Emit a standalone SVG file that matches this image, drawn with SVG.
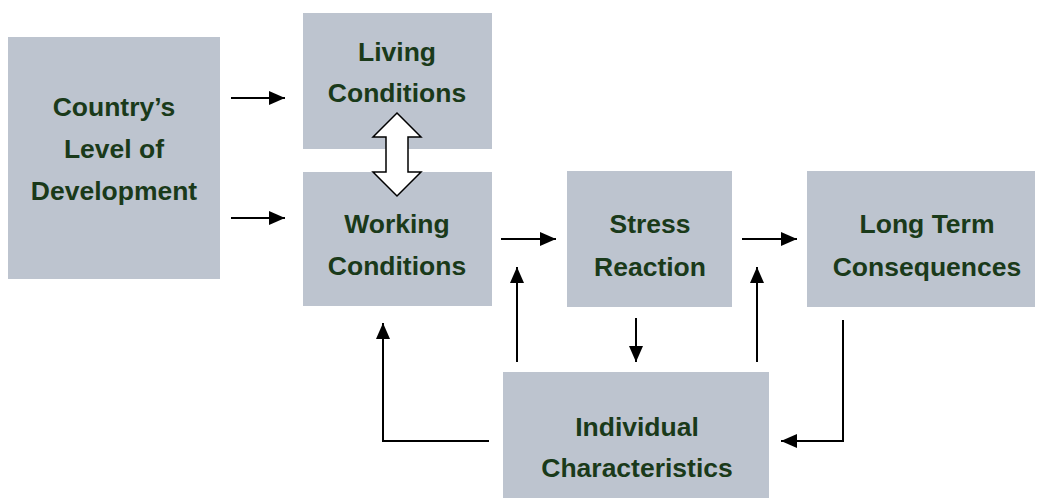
<svg xmlns="http://www.w3.org/2000/svg" width="1038" height="502" viewBox="0 0 1038 502">
<style>
.box{fill:#bdc4cf}
.t{font-family:"Liberation Sans",Arial,sans-serif;font-weight:bold;font-size:26.5px;fill:#1a3a1a;text-anchor:middle}
.c{stroke:#000;stroke-width:2;fill:none}
</style>
<defs>
<marker id="a" viewBox="0 0 16 14" refX="16" refY="7" markerWidth="16" markerHeight="14" markerUnits="userSpaceOnUse" orient="auto">
<path d="M0,0 L16,7 L0,14 Z" fill="#000"/>
</marker>
</defs>
<rect width="1038" height="502" fill="#fff"/>
<g id="country"><rect class="box" x="8" y="37" width="212" height="242"/>
<text class="t" x="114" y="116">Country’s</text><text class="t" x="114" y="158">Level of</text><text class="t" x="114" y="200">Development</text></g>
<g id="living"><rect class="box" x="303" y="13" width="189" height="136"/>
<text class="t" x="397" y="61">Living</text><text class="t" x="397" y="102">Conditions</text></g>
<g id="working"><rect class="box" x="303" y="172" width="189" height="134"/>
<text class="t" x="397" y="233">Working</text><text class="t" x="397" y="275">Conditions</text></g>
<g id="stress"><rect class="box" x="567" y="171" width="165" height="136"/>
<text class="t" x="650" y="233">Stress</text><text class="t" x="650" y="276">Reaction</text></g>
<g id="longterm"><rect class="box" x="807" y="171" width="228" height="136"/>
<text class="t" x="927" y="233">Long Term</text><text class="t" x="927" y="276">Consequences</text></g>
<g id="individual"><rect class="box" x="503" y="372" width="266" height="126"/>
<text class="t" x="637" y="436">Individual</text><text class="t" x="637" y="477">Characteristics</text></g>
<g id="connectors">
<path class="c" d="M231,98 H285" marker-end="url(#a)"/>
<path class="c" d="M231,218 H285" marker-end="url(#a)"/>
<path class="c" d="M501,239 H556" marker-end="url(#a)"/>
<path class="c" d="M742,239 H797" marker-end="url(#a)"/>
<path class="c" d="M517,362 V267" marker-end="url(#a)"/>
<path class="c" d="M757,362 V267" marker-end="url(#a)"/>
<path class="c" d="M636,318 V362" marker-end="url(#a)"/>
<path class="c" d="M489,441 H383 V323" marker-end="url(#a)"/>
<path class="c" d="M843,320 V441 H781" marker-end="url(#a)"/>
<path d="M397,113 L421,137 L408,137 L408,172 L421,172 L397,196 L373,172 L386,172 L386,137 L373,137 Z" fill="#fff" stroke="#000" stroke-width="1.5"/>
</g>
</svg>
